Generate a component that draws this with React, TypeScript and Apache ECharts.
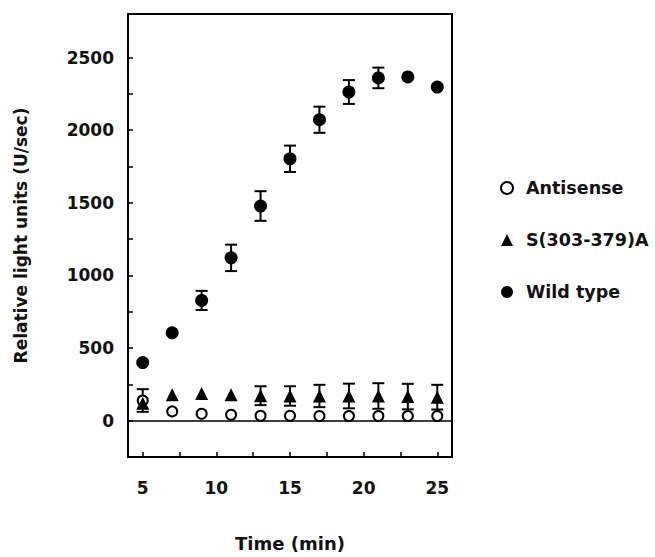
import React, { useEffect, useRef } from "react";
import * as echarts from "echarts";

const times = [5, 7, 9, 11, 13, 15, 17, 19, 21, 23, 25];
const antisense = [139, 64, 48, 41, 34, 34, 32, 32, 32, 32, 32];
const antisenseErr = [78, 0, 0, 0, 0, 0, 0, 0, 0, 0, 0];
const s303 = [120, 178, 188, 178, 172, 170, 170, 170, 170, 166, 162];
const s303Err = [0, 0, 0, 0, 65, 67, 77, 85, 88, 88, 85];
const wildType = [400, 605, 828, 1121, 1478, 1803, 2072, 2263, 2360, 2367, 2297];
const wildTypeErr = [0, 0, 66, 91, 102, 91, 90, 82, 71, 0, 0];

const xTickValues = [5, 7.5, 10, 12.5, 15, 17.5, 20, 22.5, 25];
const xLabelValues = [5, 10, 15, 20, 25];
const yTickValues = [0, 250, 500, 750, 1000, 1250, 1500, 1750, 2000, 2250, 2500];
const yLabelValues = [0, 500, 1000, 1500, 2000, 2500];

const FONT = "DejaVu Sans";

function pairs(ys: number[]) {
  return times.map((t, i) => [t, ys[i]]);
}
function errData(ys: number[], errs: number[]) {
  const out: number[][] = [];
  times.forEach((t, i) => {
    if (errs[i] > 0) out.push([t, ys[i] - errs[i], ys[i] + errs[i]]);
  });
  return out;
}

function renderErr(params: any, api: any) {
  const x = api.value(0);
  const lo = api.value(1);
  const hi = api.value(2);
  const top = api.coord([x, hi]);
  const bot = api.coord([x, lo]);
  const hw = 6;
  const style = { stroke: "#000", lineWidth: 2 };
  return {
    type: "group",
    children: [
      { type: "line", shape: { x1: top[0], y1: top[1], x2: bot[0], y2: bot[1] }, style },
      { type: "line", shape: { x1: top[0] - hw, y1: top[1], x2: top[0] + hw, y2: top[1] }, style },
      { type: "line", shape: { x1: bot[0] - hw, y1: bot[1], x2: bot[0] + hw, y2: bot[1] }, style },
    ],
  };
}

export default function App() {
  const ref = useRef<HTMLDivElement>(null);
  useEffect(() => {
    if (!ref.current) return;
    const chart = echarts.init(ref.current, undefined, { renderer: "svg" });
    const errSeries = (ys: number[], errs: number[]) => ({
      type: "custom",
      renderItem: renderErr,
      data: errData(ys, errs),
      encode: { x: 0, y: [1, 2] },
      z: 1,
      silent: true,
    });
    chart.setOption({
      animation: false,
      grid: {
        left: 128,
        right: 203,
        top: 14,
        bottom: 95,
        show: true,
        borderColor: "#000",
        borderWidth: 2,
      },
      legend: {
        orient: "vertical",
        left: 495,
        top: 174,
        itemWidth: 12,
        itemHeight: 12,
        itemGap: 34,
        data: ["Antisense", "S(303-379)A", "Wild type"],
        textStyle: {
          fontFamily: FONT,
          fontWeight: "bold",
          fontSize: 17.5,
          lineHeight: 17,
          color: "#111",
          padding: [0, 0, 0, 8],
        },
      },
      xAxis: {
        type: "value",
        min: 4,
        max: 26,
        name: "Time (min)",
        nameLocation: "middle",
        nameGap: 77,
        nameTextStyle: { fontFamily: FONT, fontWeight: "bold", fontSize: 18, color: "#111" },
        axisLine: { show: true, onZero: false, lineStyle: { color: "#000", width: 2 } },
        axisTick: { show: true, inside: true, length: 5, customValues: xTickValues, lineStyle: { color: "#000", width: 1.5 } },
        axisLabel: {
          customValues: xLabelValues,
          formatter: (v: number) => String(v),
          margin: 22,
          fontFamily: FONT,
          fontWeight: "bold",
          fontSize: 17,
          color: "#111",
        },
        splitLine: { show: false },
      },
      yAxis: {
        type: "value",
        min: -250,
        max: 2800,
        name: "Relative light units (U/sec)",
        nameLocation: "middle",
        nameGap: 99,
        nameTextStyle: { fontFamily: FONT, fontWeight: "bold", fontSize: 17, color: "#111" },
        axisLine: { show: true, lineStyle: { color: "#000", width: 2 } },
        axisTick: { show: true, inside: true, length: 5, customValues: yTickValues, lineStyle: { color: "#000", width: 1.5 } },
        axisLabel: {
          customValues: yLabelValues,
          formatter: (v: number) => String(v),
          margin: 14,
          fontFamily: FONT,
          fontWeight: "bold",
          fontSize: 17,
          color: "#111",
        },
        splitLine: { show: false },
      },
      series: [
        errSeries(antisense, antisenseErr),
        errSeries(s303, s303Err),
        errSeries(wildType, wildTypeErr),
        {
          name: "Antisense",
          type: "scatter",
          data: pairs(antisense),
          symbol: "circle",
          symbolSize: 10,
          itemStyle: { color: "#fff", borderColor: "#000", borderWidth: 2, opacity: 1 },
          z: 2,
          markLine: {
            silent: true,
            symbol: ["none", "none"],
            label: { show: false },
            lineStyle: { color: "#000", width: 1.5, type: "solid" },
            data: [{ yAxis: 0 }],
          },
        },
        {
          name: "S(303-379)A",
          type: "scatter",
          data: pairs(s303),
          symbol: "triangle",
          symbolSize: 13,
          itemStyle: { color: "#000", opacity: 1 },
          z: 3,
        },
        {
          name: "Wild type",
          type: "scatter",
          data: pairs(wildType),
          symbol: "circle",
          symbolSize: 13,
          itemStyle: { color: "#000", opacity: 1 },
          z: 3,
        },
      ],
    });
    return () => chart.dispose();
  }, []);
  return (
    <div
      ref={ref}
      style={{ position: "absolute", left: 0, top: 0, width: 655, height: 557 }}
    />
  );
}
